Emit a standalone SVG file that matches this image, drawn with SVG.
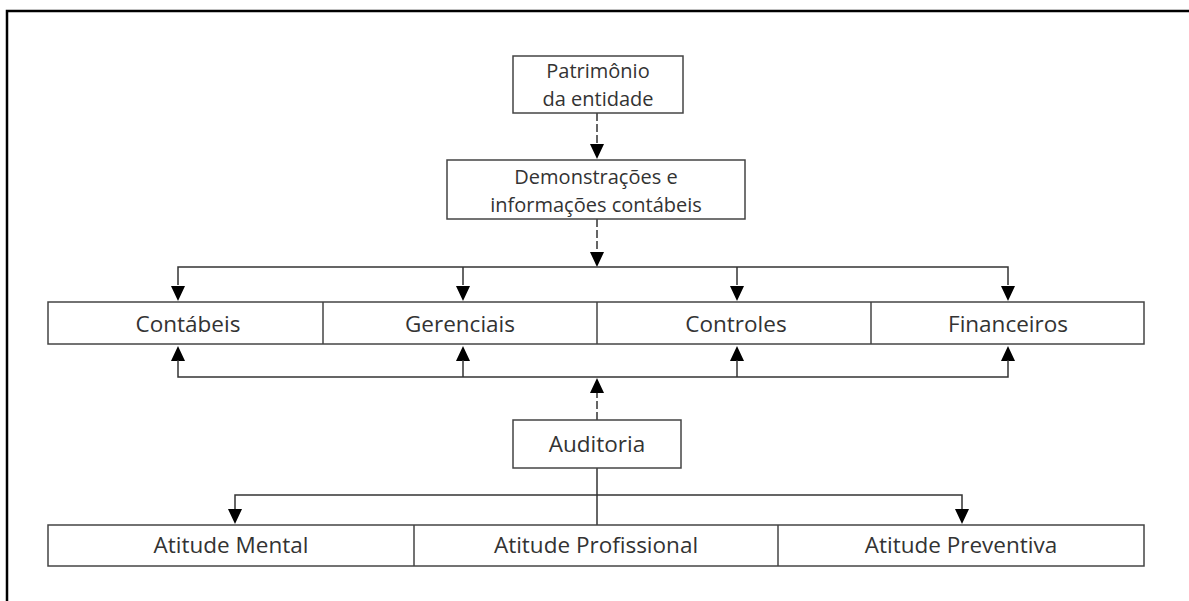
<svg xmlns="http://www.w3.org/2000/svg" width="1189" height="601" viewBox="0 0 1189 601">
<style>
.box{fill:#fff;stroke:#444;stroke-width:1.5}
.div{stroke:#444;stroke-width:1.5;fill:none}
.t{font-family:"Open Sans","Noto Sans","Liberation Sans",sans-serif;font-size:22.5px;fill:#333;text-anchor:middle}
.t2{font-size:20px}
.ln{stroke:#333;stroke-width:1.5;fill:none}
.dash{stroke:#333;stroke-width:1.5;fill:none;stroke-dasharray:8 3}
.ah{fill:#000}
</style>
<defs>
<path id="down" d="M-7,0 L7,0 L0,15 Z"/>
<path id="up" d="M-7,0 L7,0 L0,-15 Z"/>
</defs>
<rect x="0" y="0" width="1189" height="601" fill="#fff"/>
<path d="M7,601 L7,11 L1189,11" stroke="#000" stroke-width="2.5" fill="none"/>

<g id="connectors">
<line class="dash" x1="597" y1="113" x2="597" y2="144"/>
<use href="#down" class="ah" x="597" y="144"/>
<line class="dash" x1="597" y1="219" x2="597" y2="252"/>
<use href="#down" class="ah" x="597" y="252"/>
<polyline class="ln" points="178,285 178,267 1008,267 1008,285"/>
<line class="ln" x1="463" y1="267" x2="463" y2="285"/>
<line class="ln" x1="737" y1="267" x2="737" y2="285"/>
<use href="#down" class="ah" x="178" y="286"/>
<use href="#down" class="ah" x="463" y="286"/>
<use href="#down" class="ah" x="737" y="286"/>
<use href="#down" class="ah" x="1008" y="286"/>
<use href="#up" class="ah" x="178" y="361"/>
<use href="#up" class="ah" x="463" y="361"/>
<use href="#up" class="ah" x="737" y="361"/>
<use href="#up" class="ah" x="1008" y="361"/>
<polyline class="ln" points="178,360 178,377 1008,377 1008,360"/>
<line class="ln" x1="463" y1="360" x2="463" y2="377"/>
<line class="ln" x1="737" y1="360" x2="737" y2="377"/>
<line class="dash" x1="597" y1="420" x2="597" y2="393"/>
<use href="#up" class="ah" x="597" y="393"/>
<line class="ln" x1="597" y1="468" x2="597" y2="525"/>
<polyline class="ln" points="235,510 235,495 962,495 962,510"/>
<use href="#down" class="ah" x="235" y="509"/>
<use href="#down" class="ah" x="962" y="509"/>
</g>

<g id="patrimonio">
<rect class="box" x="513" y="56" width="170" height="57"/>
<text class="t t2"><tspan x="598" y="77.5">Patrimônio</tspan><tspan x="598" y="105.5">da entidade</tspan></text>
</g>
<g id="demonstracoes">
<rect class="box" x="447" y="160" width="298" height="59"/>
<text class="t t2"><tspan x="596" y="183.5">Demonstrações e</tspan><tspan x="596" y="211.5">informações contábeis</tspan></text>
</g>

<g id="row1">
<rect class="box" x="48" y="302" width="1096" height="42"/>
<line class="div" x1="323" y1="302" x2="323" y2="344"/>
<line class="div" x1="597" y1="302" x2="597" y2="344"/>
<line class="div" x1="871" y1="302" x2="871" y2="344"/>
</g>
<g id="contabeis"><text class="t" x="188" y="332">Contábeis</text></g>
<g id="gerenciais"><text class="t" x="460" y="332">Gerenciais</text></g>
<g id="controles"><text class="t" x="736" y="332">Controles</text></g>
<g id="financeiros"><text class="t" x="1008" y="332">Financeiros</text></g>

<g id="auditoria">
<rect class="box" x="513" y="420" width="168" height="48"/>
<text class="t" x="597" y="452">Auditoria</text>
</g>

<g id="row2">
<rect class="box" x="48" y="525" width="1096" height="41"/>
<line class="div" x1="414" y1="525" x2="414" y2="566"/>
<line class="div" x1="778" y1="525" x2="778" y2="566"/>
</g>
<g id="mental"><text class="t" x="231" y="553">Atitude Mental</text></g>
<g id="profissional"><text class="t" x="596" y="553">Atitude Profissional</text></g>
<g id="preventiva"><text class="t" x="961" y="553">Atitude Preventiva</text></g>
</svg>
